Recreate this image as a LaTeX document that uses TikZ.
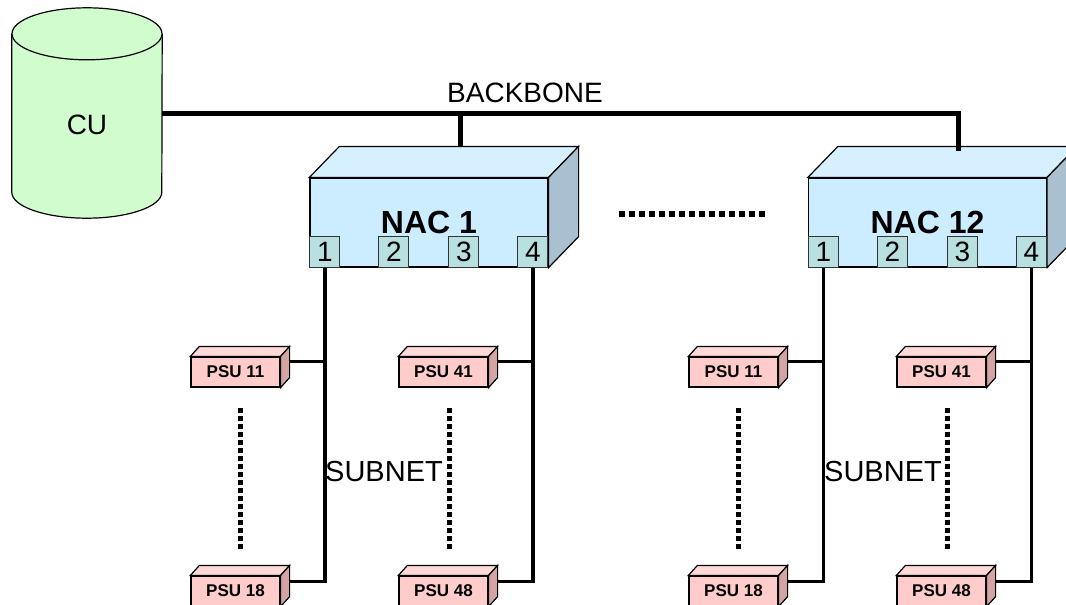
\documentclass[tikz,border=0pt]{standalone}
\usepackage{fontspec}
\setmainfont{Liberation Sans}
\usepackage{tikz}
\usetikzlibrary{positioning, calc, backgrounds}

\definecolor{cugreen}{RGB}{208,252,206}
\definecolor{nacfront}{RGB}{204,236,255}
\definecolor{nactop}{RGB}{214,240,255}
\definecolor{nacside}{RGB}{168,192,208}
\definecolor{portcol}{RGB}{184,224,224}
\definecolor{psufront}{RGB}{255,204,204}
\definecolor{psutop}{RGB}{255,216,216}
\definecolor{psuside}{RGB}{212,164,164}

% top and right faces of a box node
\newcommand{\cuboid}[5]{%
  \filldraw[outline, fill=#4] (#1.north west) -- ++(#2,#3)
    -- ([shift={(#2,#3)}]#1.north east) -- (#1.north east) -- cycle;
  \filldraw[outline, fill=#5] (#1.north east) -- ([shift={(#2,#3)}]#1.north east)
    -- ([shift={(#2,#3)}]#1.south east) -- (#1.south east) -- cycle;}

\begin{document}
\begin{tikzpicture}[x=1pt, y=-1pt,
  outline/.style={draw=black, line width=1.2pt},
  nac/.style={outline, fill=nacfront, minimum width=238pt, minimum height=89pt,
              inner sep=0pt, font=\fontsize{32}{32}\selectfont\bfseries},
  port/.style={draw=black!80, line width=0.8pt, fill=portcol, anchor=south west,
               minimum width=30pt, minimum height=31pt, inner sep=0pt,
               font=\fontsize{28}{28}\selectfont},
  psu/.style={outline, fill=psufront, minimum width=89pt, minimum height=30pt,
              inner sep=0pt, font=\fontsize{17}{17}\selectfont\bfseries},
  bus/.style={line width=5pt},
  subnet/.style={line width=3.5pt},
  dots/.style={line width=6pt, dash pattern=on 6pt off 4pt},
  vdots/.style={line width=5pt, dash pattern=on 5pt off 3pt},
  lbl/.style={font=\fontsize{29}{29}\selectfont}]
  \useasboundingbox (0,0) rectangle (1066,605);
  \clip (0,0) rectangle (1066,605);

  % control unit
  \node[minimum width=150pt, minimum height=158pt, inner sep=0pt,
        label={[lbl, font=\fontsize{28}{28}\selectfont, yshift=-12pt]center:CU}] (cu) at (87,113) {};
  \begin{pgfonlayer}{background}
    \fill[cugreen] (cu.north west) -- (cu.south west)
      arc[start angle=180, end angle=360, x radius=75pt, y radius=26pt]
      -- (cu.north east) arc[start angle=0, end angle=180, x radius=75pt, y radius=26pt] -- cycle;
    \draw[outline] (cu.north west) -- (cu.south west)
      arc[start angle=180, end angle=360, x radius=75pt, y radius=26pt] -- (cu.north east);
    \draw[outline] (cu.north) ellipse[x radius=75pt, y radius=26pt];
  \end{pgfonlayer}

  % network access controllers
  \node[nac] (nac1) at (429,222.5) {NAC 1};
  \cuboid{nac1}{30pt}{31pt}{nactop}{nacside}
  \node[port] (n1p1) at (nac1.south west) {1};
  \node[port] (n1p2) at ([xshift=69pt]nac1.south west) {2};
  \node[port] (n1p3) at ([xshift=139pt]nac1.south west) {3};
  \node[port] (n1p4) at ([xshift=208pt]nac1.south west) {4};

  \node[nac] (nac12) at (927.5,222.5) {NAC 12};
  \cuboid{nac12}{30pt}{31pt}{nactop}{nacside}
  \node[port] (n12p1) at (nac12.south west) {1};
  \node[port] (n12p2) at ([xshift=69pt]nac12.south west) {2};
  \node[port] (n12p3) at ([xshift=139pt]nac12.south west) {3};
  \node[port] (n12p4) at ([xshift=208pt]nac12.south west) {4};

  \node[lbl, font=\fontsize{28}{28}\selectfont] (backbone) at (525,93) {BACKBONE};
  \draw[bus] (cu.east) -| ([xshift=31pt,yshift=26pt]nac12.north);
  \draw[bus] ([xshift=31pt,yshift=31pt]nac1.north) -- ([xshift=31pt]nac1.north |- cu.east);
  \draw[dots] ([xshift=70pt,yshift=9pt]nac1.east) -- ([xshift=-43pt,yshift=9pt]nac12.west);

  % power supply units
  \node[psu] (psuA11) at (235.5,372) {PSU 11};
  \node[psu] (psuA41) at (443.5,372) {PSU 41};
  \node[psu] (psuA18) at (235.5,591) {PSU 18};
  \node[psu] (psuA48) at (443.5,591) {PSU 48};
  \node[psu] (psuB11) at (733.5,372) {PSU 11};
  \node[psu] (psuB41) at (941.5,372) {PSU 41};
  \node[psu] (psuB18) at (733.5,591) {PSU 18};
  \node[psu] (psuB48) at (941.5,591) {PSU 48};
  \cuboid{psuA11}{9pt}{10pt}{psutop}{psuside}
  \cuboid{psuA41}{9pt}{10pt}{psutop}{psuside}
  \cuboid{psuA18}{9pt}{10pt}{psutop}{psuside}
  \cuboid{psuA48}{9pt}{10pt}{psutop}{psuside}
  \cuboid{psuB11}{9pt}{10pt}{psutop}{psuside}
  \cuboid{psuB41}{9pt}{10pt}{psutop}{psuside}
  \cuboid{psuB18}{9pt}{10pt}{psutop}{psuside}
  \cuboid{psuB48}{9pt}{10pt}{psutop}{psuside}

  % subnets
  \draw[subnet] (n1p1.south) |- ([xshift=9pt,yshift=-6pt]psuA18.north east);
  \draw[subnet] ([xshift=9pt,yshift=-5pt]psuA11.north east) -- ([yshift=-5pt]psuA11.north east -| n1p1.south);
  \draw[subnet] (n1p4.south) |- ([xshift=9pt,yshift=-6pt]psuA48.north east);
  \draw[subnet] ([xshift=9pt,yshift=-5pt]psuA41.north east) -- ([yshift=-5pt]psuA41.north east -| n1p4.south);
  \draw[subnet] (n12p1.south) |- ([xshift=9pt,yshift=-6pt]psuB18.north east);
  \draw[subnet] ([xshift=9pt,yshift=-5pt]psuB11.north east) -- ([yshift=-5pt]psuB11.north east -| n12p1.south);
  \draw[subnet] (n12p4.south) |- ([xshift=9pt,yshift=-6pt]psuB48.north east);
  \draw[subnet] ([xshift=9pt,yshift=-5pt]psuB41.north east) -- ([yshift=-5pt]psuB41.north east -| n12p4.south);

  \draw[vdots] ([xshift=5pt,yshift=-20pt]psuA11.south) -- ([xshift=5pt,yshift=24pt]psuA18.north);
  \draw[vdots] ([xshift=6pt,yshift=-20pt]psuA41.south) -- ([xshift=6pt,yshift=24pt]psuA48.north);
  \draw[vdots] ([xshift=5pt,yshift=-20pt]psuB11.south) -- ([xshift=5pt,yshift=24pt]psuB18.north);
  \draw[vdots] ([xshift=6pt,yshift=-20pt]psuB41.south) -- ([xshift=6pt,yshift=24pt]psuB48.north);

  \node[lbl] (subA) at (384,472) {SUBNET};
  \node[lbl] (subB) at (883,472) {SUBNET};
\end{tikzpicture}
\end{document}
